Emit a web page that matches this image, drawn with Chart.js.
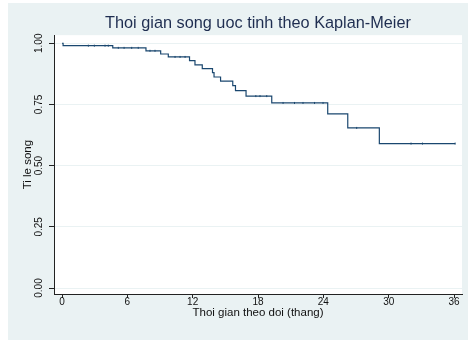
<!DOCTYPE html>
<html><head><meta charset="utf-8">
<script src="https://cdn.jsdelivr.net/npm/chart.js@4"></script>
<style>html,body{margin:0;padding:0;background:#fff}canvas{display:block}</style>
</head><body>
<canvas id="c" width="468" height="340"></canvas>
<script>
const titleText = 'Thoi gian song uoc tinh theo Kaplan-Meier';
const xTitle = 'Thoi gian theo doi (thang)';
const yTitle = 'Ti le song';
// Kaplan-Meier step points (time in months, survival)
const eventTimes = [0, 0.1, 4.66, 7.71, 9.06, 9.76, 11.71, 12.21, 12.88, 13.82, 13.96, 14.56, 15.68, 15.93, 16.9, 19.26, 24.4, 26.24, 29.14, 36.1];
const survival   = [1.0, 0.990, 0.981, 0.969, 0.956, 0.944, 0.929, 0.912, 0.896, 0.880, 0.862, 0.845, 0.827, 0.806, 0.784, 0.756, 0.711, 0.654, 0.590, 0.590];
// censored observation times
const censorTimes = [2.42, 2.97, 3.95, 4.25, 5.17, 5.7, 6.4, 7.0, 8.08, 8.54, 10.38, 10.84, 11.3, 17.8, 18.18, 18.8, 20.3, 21.35, 22.13, 23.19, 23.97, 27.06, 32.05, 33.1, 36.1];
const xTicks = [0, 6, 12, 18, 24, 30, 36];
const yTicks = [0, 0.25, 0.5, 0.75, 1];

const FONT = 'Liberation Sans, Arial, Helvetica, sans-serif';
const LINE = '#1a476f';
const BG = '#eaf2f3';

function survAt(t) {
  let s = survival[0];
  for (let i = 0; i < eventTimes.length; i++) { if (eventTimes[i] <= t) s = survival[i]; }
  return s;
}
const kmData = eventTimes.map((t, i) => ({x: t, y: survival[i]}));
const censorData = censorTimes.map(t => ({x: t, y: survAt(t)}));

const bgPlugin = {
  id: 'bg',
  beforeDraw(chart) {
    const ctx = chart.ctx, a = chart.chartArea;
    ctx.save();
    ctx.fillStyle = '#fff';
    ctx.fillRect(0, 0, chart.width, chart.height);
    ctx.fillStyle = BG;
    ctx.fillRect(8, 3, chart.width - 8, chart.height - 3);
    ctx.fillStyle = '#fff';
    ctx.fillRect(a.left, a.top, a.right - a.left, a.bottom - a.top);
    ctx.restore();
  }
};

new Chart(document.getElementById('c'), {
  type: 'scatter',
  data: {
    datasets: [
      {data: kmData, showLine: true, stepped: true, borderColor: LINE, borderWidth: 1.2, pointRadius: 0, fill: false},
      {data: censorData, showLine: false, pointStyle: 'line', rotation: 90, pointRadius: 1, borderColor: LINE, borderWidth: 1}
    ]
  },
  options: {
    responsive: false, animation: false, devicePixelRatio: 1,
    layout: {padding: {left: 8, top: 3, right: 6, bottom: 6}},
    plugins: {
      legend: {display: false}, tooltip: {enabled: false},
      title: {display: true, text: titleText, fullSize: false, color: '#1e2d50',
        font: {family: FONT, size: 16.3, weight: 'normal'}, padding: {top: 11.2, bottom: 1.4}}
    },
    scales: {
      x: {
        type: 'linear', min: -0.735, max: 36.73,
        afterBuildTicks: s => { s.ticks = xTicks.map(v => ({value: v})); },
        afterFit: s => { s.height = 40; },
        ticks: {autoSkip: false, maxRotation: 0, minRotation: 0, padding: -1.5, color: '#111',
          font: {family: FONT, size: 10}, callback: v => String(v)},
        grid: {drawOnChartArea: false, drawTicks: true, tickLength: 4, tickColor: '#222', tickWidth: 1},
        border: {display: true, color: '#222', width: 1},
        title: {display: true, text: xTitle, color: '#111', font: {family: FONT, size: 11.5}, padding: {top: 0, bottom: 14}}
      },
      y: {
        type: 'linear', min: -0.0245, max: 1.033,
        afterBuildTicks: s => { s.ticks = yTicks.map(v => ({value: v})); },
        afterFit: s => { s.width = 46; },
        ticks: {autoSkip: false, minRotation: 90, maxRotation: 90, crossAlign: 'center', padding: 0, color: '#111',
          font: {family: FONT, size: 10}, callback: v => Number(v).toFixed(2)},
        grid: {color: BG, lineWidth: 1, drawTicks: true, tickLength: 5, tickColor: '#222', tickWidth: 1},
        border: {display: true, color: '#222', width: 1},
        title: {display: true, text: yTitle, color: '#111', font: {family: FONT, size: 11.5}, padding: {top: 12.8, bottom: 0}}
      }
    }
  },
  plugins: [bgPlugin]
});
</script>
</body></html>
